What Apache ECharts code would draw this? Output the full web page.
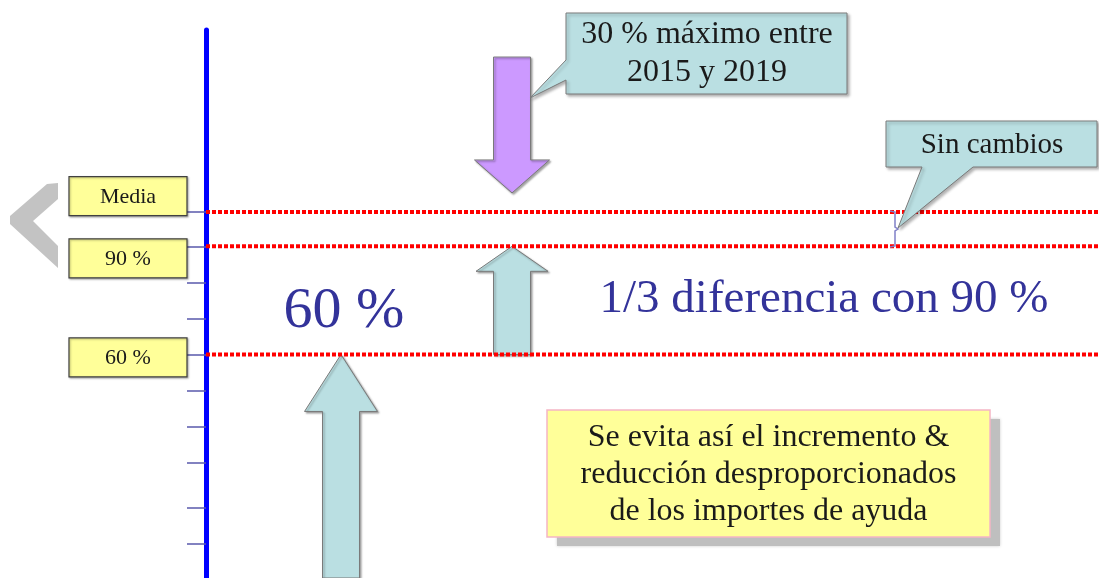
<!DOCTYPE html>
<html>
<head>
<meta charset="utf-8">
<script src="https://cdn.jsdelivr.net/npm/echarts@6/dist/echarts.min.js"></script>
<style>
  html, body { margin: 0; padding: 0; background: #fff; }
  #chart { width: 1099px; height: 578px; }
</style>
</head>
<body>
<div id="chart"></div>
<script>
// niveles de referencia (% de la media)
const levelNames = ['Media', '90 %', '60 %'];
const levelValues = [99.5, 90, 60];
// marcas del eje vertical
const tickValues = [99.5, 90, 80, 70, 60, 50, 40, 30, 17.5, 7.5];
// flechas: desde / hasta (en % de la media)
const arrowFrom = [142.5, 60, -2];
const arrowTo = [104.8, 90, 60];

// textos
const bigLabel = '60 %';
const diffLabel = '1/3 diferencia con 90 %';
const calloutTop = '30 % máximo entre\n2015 y 2019';
const calloutRight = 'Sin cambios';
const noteText = 'Se evita así el incremento &\nreducción desproporcionados\nde los importes de ayuda';

// colocación (fuera de los datos)
const arrowX = [306, 306, 135];
const arrowHead = [33, 25, 57];
const arrowHeadHalf = [37.5, 36, 36.5];
const arrowColor = ['#cc99ff', '#badfe2', '#badfe2'];
const labelDy = [-16, 12, 3];
const serif = '"Liberation Serif", "DejaVu Serif", serif';

const myChart = echarts.init(document.getElementById('chart'));

myChart.setOption({
  backgroundColor: '#ffffff',
  animation: false,
  grid: { left: 0, right: 0, top: 30, bottom: 0 },
  xAxis: {
    type: 'value', min: -206, max: 893,
    show: false, splitLine: { show: false }
  },
  yAxis: {
    type: 'value', min: -2, max: 150,
    axisLine: { show: true, onZero: true, lineStyle: { color: '#0000ff', width: 5 } },
    axisTick: {
      show: true, customValues: tickValues, length: 19, inside: false,
      lineStyle: { color: '#5a5aac', width: 1.5 }
    },
    axisLabel: { show: false },
    splitLine: { show: false }
  },
  series: [
    {
      // flechas
      type: 'custom',
      z: 2,
      data: arrowFrom.map((v, i) => [arrowX[i], v, arrowTo[i]]),
      renderItem: function (params, api) {
        const i = params.dataIndex;
        const tail = api.coord([api.value(0), api.value(1)]);
        const tip = api.coord([api.value(0), api.value(2)]);
        const cx = tail[0];
        const dir = tip[1] < tail[1] ? -1 : 1;
        const base = tip[1] - dir * arrowHead[i];
        const hs = 18.5, hh = arrowHeadHalf[i];
        return {
          type: 'polygon',
          shape: { points: [
            [cx - hs, tail[1]], [cx - hs, base], [cx - hh, base], [cx, tip[1]],
            [cx + hh, base], [cx + hs, base], [cx + hs, tail[1]]
          ] },
          style: {
            fill: arrowColor[i], stroke: '#7a7a7a', lineWidth: 1,
            shadowBlur: 2, shadowOffsetX: 1.5, shadowOffsetY: 1.5, shadowColor: 'rgba(0,0,0,0.35)'
          }
        };
      }
    },
    {
      // líneas rojas de nivel
      type: 'custom',
      z: 3,
      data: levelValues.map(v => [0, v]),
      renderItem: function (params, api) {
        const a = api.coord([0, api.value(1)]);
        const b = api.coord([893, api.value(1)]);
        return {
          type: 'line',
          shape: { x1: a[0], y1: a[1], x2: b[0], y2: b[1] },
          style: { stroke: '#ff0000', lineWidth: 4, lineDash: [4, 2] }
        };
      }
    },
    {
      // etiquetas de nivel a la izquierda
      type: 'custom',
      z: 4,
      data: levelValues.map(v => [0, v]),
      renderItem: function (params, api) {
        const i = params.dataIndex;
        const p = api.coord([0, api.value(1)]);
        const cy = p[1] + labelDy[i];
        const right = p[0] - 19;
        return {
          type: 'group',
          children: [
            {
              type: 'rect',
              shape: { x: right - 118, y: cy - 19.5, width: 118, height: 39 },
              style: {
                fill: '#ffff99', stroke: '#404040', lineWidth: 1.2,
                shadowBlur: 2, shadowOffsetX: 1, shadowOffsetY: 1, shadowColor: 'rgba(0,0,0,0.3)'
              }
            },
            {
              type: 'text',
              style: {
                x: right - 59, y: cy + 1, text: levelNames[i],
                align: 'center', verticalAlign: 'middle',
                fill: '#1a1a1a', font: '22px ' + serif
              }
            }
          ]
        };
      }
    }
  ],
  graphic: [
    {
      // chevron gris
      type: 'polygon', z: 1,
      shape: { points: [[58, 183], [47, 184], [10, 216], [10, 224], [58, 268], [58, 246], [33, 221], [58, 199]] },
      style: { fill: '#c3c3c3' }
    },
    {
      type: 'text', z: 5,
      style: { x: 344, y: 312, text: bigLabel, align: 'center', verticalAlign: 'middle',
        fill: '#33339a', font: '58px ' + serif }
    },
    {
      type: 'text', z: 5,
      style: { x: 824, y: 300, text: diffLabel, align: 'center', verticalAlign: 'middle',
        fill: '#33339a', font: '47px ' + serif }
    },
    {
      // llamada superior
      type: 'polygon', z: 5,
      shape: { points: [[566, 13], [847, 13], [847, 94], [566, 94], [566, 80], [530, 98], [566, 60]] },
      style: { fill: '#badfe2', stroke: '#7a7a7a', lineWidth: 1,
        shadowBlur: 3, shadowOffsetX: 2, shadowOffsetY: 2, shadowColor: 'rgba(0,0,0,0.3)' }
    },
    {
      type: 'text', z: 6,
      style: { x: 707, y: 54, text: calloutTop, align: 'center', verticalAlign: 'middle',
        lineHeight: 38, fill: '#1a1a1a', font: '32px ' + serif }
    },
    {
      // llamada derecha
      type: 'polygon', z: 5,
      shape: { points: [[886, 121], [1097, 121], [1097, 167], [973, 167], [898, 228], [922, 167], [886, 167]] },
      style: { fill: '#badfe2', stroke: '#7a7a7a', lineWidth: 1,
        shadowBlur: 3, shadowOffsetX: 2, shadowOffsetY: 2, shadowColor: 'rgba(0,0,0,0.3)' }
    },
    {
      type: 'text', z: 6,
      style: { x: 992, y: 145, text: calloutRight, align: 'center', verticalAlign: 'middle',
        fill: '#1a1a1a', font: '29px ' + serif }
    },
    {
      // pequeña llave entre Media y 90 %
      type: 'polyline', z: 4,
      shape: { points: [[890, 211], [895, 212], [895, 227], [898, 229], [895, 231], [895, 246], [890, 247]] },
      style: { stroke: '#8080c8', lineWidth: 1.5, fill: null }
    },
    {
      // sombra de la nota
      type: 'rect', z: 5,
      shape: { x: 557, y: 419, width: 443, height: 127 },
      style: { fill: '#bfbfbf', shadowBlur: 3, shadowColor: 'rgba(0,0,0,0.2)' }
    },
    {
      type: 'rect', z: 6,
      shape: { x: 547, y: 410, width: 443, height: 127 },
      style: { fill: '#ffff99', stroke: '#f5b5c5', lineWidth: 1.5 }
    },
    {
      type: 'text', z: 7,
      style: { x: 768.5, y: 475, text: noteText, align: 'center', verticalAlign: 'middle',
        lineHeight: 37, fill: '#1a1a1a', font: '32px ' + serif }
    }
  ]
});

window.addEventListener('resize', () => {
  myChart.resize();
});
</script>
</body>
</html>
